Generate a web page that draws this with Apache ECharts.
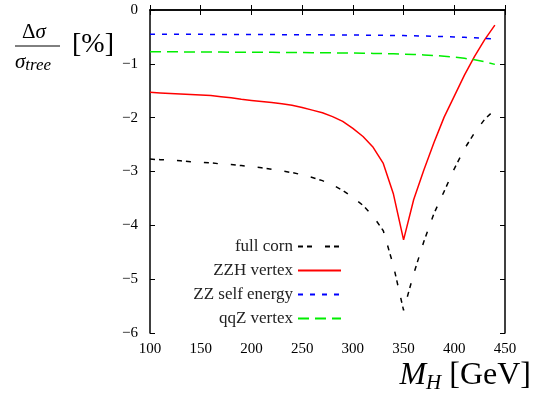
<!DOCTYPE html>
<html>
<head>
<meta charset="utf-8">
<script src="https://cdn.jsdelivr.net/npm/echarts@6/dist/echarts.min.js"></script>
<style>html,body{margin:0;padding:0;background:#fff}#c{width:545px;height:403px}</style>
</head>
<body>
<div id="c"></div>
<script>
var massGeV = [100,110,120,130,140,150,160,170,180,190,200,210,220,230,240,250,260,270,280,290,300,310,320,330,340,350,360,370,380,390,400,410,420,430,440];
var fullCorr = [-2.77,-2.78,-2.79,-2.80,-2.82,-2.83,-2.84,-2.86,-2.87,-2.89,-2.91,-2.93,-2.96,-2.99,-3.02,-3.06,-3.11,-3.17,-3.25,-3.35,-3.48,-3.63,-3.83,-4.10,-4.75,-5.58,-4.90,-4.30,-3.78,-3.37,-2.95,-2.58,-2.28,-2.03,-1.85];
var zzhVertex = [-1.53,-1.54,-1.55,-1.56,-1.57,-1.58,-1.59,-1.61,-1.63,-1.66,-1.68,-1.70,-1.72,-1.74,-1.77,-1.81,-1.86,-1.91,-1.98,-2.07,-2.20,-2.35,-2.55,-2.85,-3.42,-4.27,-3.52,-2.97,-2.46,-1.99,-1.60,-1.21,-0.86,-0.55,-0.28];
var zzSelf = [-0.450,-0.450,-0.451,-0.451,-0.452,-0.452,-0.453,-0.454,-0.454,-0.455,-0.455,-0.456,-0.457,-0.458,-0.459,-0.460,-0.461,-0.462,-0.463,-0.464,-0.465,-0.467,-0.469,-0.471,-0.473,-0.475,-0.479,-0.483,-0.488,-0.494,-0.500,-0.507,-0.515,-0.527,-0.540];
var qqZ = [-0.775,-0.776,-0.777,-0.778,-0.779,-0.780,-0.781,-0.782,-0.783,-0.784,-0.785,-0.786,-0.787,-0.788,-0.789,-0.790,-0.792,-0.794,-0.796,-0.798,-0.800,-0.803,-0.806,-0.810,-0.815,-0.820,-0.826,-0.834,-0.845,-0.858,-0.875,-0.897,-0.925,-0.962,-1.010];
var seriesNames = ['full corn','ZZH vertex','ZZ self energy','qqZ vertex'];
var xTicks = [100,150,200,250,300,350,400,450];
var yTicks = [0,-1,-2,-3,-4,-5,-6];

function pairs(ys){ return massGeV.map(function(x,i){ return [x, ys[i]]; }); }
var serif = 'Liberation Serif';
var chart = echarts.init(document.getElementById('c'), null, {renderer:'canvas'});
var axisLine = {show:true, lineStyle:{color:'#000', width:1.5}};
var tick = {show:true, inside:true, length:5, lineStyle:{color:'#000', width:1}};
chart.setOption({
  animation:false,
  backgroundColor:'#fff',
  grid:{left:150, right:40, top:10, bottom:70},
  xAxis:[
    {type:'value', min:xTicks[0], max:xTicks[xTicks.length-1], interval:50, axisLine:axisLine, axisTick:tick, splitLine:{show:false},
     axisLabel:{color:'#000', fontFamily:serif, fontSize:15, margin:9}},
    {type:'value', position:'top', min:xTicks[0], max:xTicks[xTicks.length-1], interval:50, axisLine:axisLine, axisTick:tick, splitLine:{show:false}, axisLabel:{show:false}}
  ],
  yAxis:[
    {type:'value', min:yTicks[yTicks.length-1], max:yTicks[0], interval:1, axisLine:axisLine, axisTick:tick, splitLine:{show:false},
     axisLabel:{color:'#000', fontFamily:serif, fontSize:15, margin:12, formatter:function(v){ return v<0 ? '\u2212'+Math.abs(v) : String(v); }}},
    {type:'value', position:'right', min:yTicks[yTicks.length-1], max:yTicks[0], interval:1, axisLine:axisLine, axisTick:tick, splitLine:{show:false}, axisLabel:{show:false}}
  ],
  legend:{
    orient:'vertical', align:'right', right:203, top:238, padding:0,
    itemWidth:43, itemHeight:14, itemGap:7,
    itemStyle:{opacity:0, color:'rgba(0,0,0,0)', borderWidth:0},
    textStyle:{fontFamily:serif, fontSize:17, color:'#222', lineHeight:17},
    data:seriesNames
  },
  series:[
    {name:seriesNames[0], type:'line', data:pairs(fullCorr), showSymbol:false, symbol:'none', lineStyle:{color:'#000', width:1.5, type:[5,4,5,13]}, itemStyle:{color:'#000'}},
    {name:seriesNames[1], type:'line', data:pairs(zzhVertex), showSymbol:false, symbol:'none', lineStyle:{color:'#ff0000', width:1.5, type:'solid'}, itemStyle:{color:'#ff0000'}},
    {name:seriesNames[2], type:'line', data:pairs(zzSelf), showSymbol:false, symbol:'none', lineStyle:{color:'#0000ff', width:1.5, type:[5,7]}, itemStyle:{color:'#0000ff'}},
    {name:seriesNames[3], type:'line', data:pairs(qqZ), showSymbol:false, symbol:'none', lineStyle:{color:'#00ee00', width:1.5, type:[11,6]}, itemStyle:{color:'#00ee00'}}
  ],
  graphic:[
    {type:'text', left:22, top:22, style:{text:'{u|\u0394}{i|\u03c3}', rich:{u:{fontFamily:serif, fontSize:21, fill:'#000'}, i:{fontFamily:serif, fontStyle:'italic', fontSize:21, fill:'#000'}}}},
    {type:'line', shape:{x1:15, y1:46, x2:60, y2:46}, style:{stroke:'#000', lineWidth:1}},
    {type:'text', left:15, top:52, style:{text:'{i|\u03c3}{s|tree}', rich:{i:{fontFamily:serif, fontStyle:'italic', fontSize:21, fill:'#000'}, s:{fontFamily:serif, fontStyle:'italic', fontSize:17, fill:'#000', padding:[6,0,0,0]}}}},
    {type:'text', left:72, top:31, style:{text:'[%]', fontFamily:serif, fontSize:28, fill:'#000'}},
    {type:'text', right:14, top:360, style:{text:'{m|M}{h|H}{n| [GeV]}', rich:{m:{fontFamily:serif, fontStyle:'italic', fontSize:32, fill:'#000'}, h:{fontFamily:serif, fontStyle:'italic', fontSize:21, fill:'#000', padding:[14,0,0,0]}, n:{fontFamily:serif, fontSize:32, fill:'#000'}}}}
  ]
});
</script>
</body>
</html>
